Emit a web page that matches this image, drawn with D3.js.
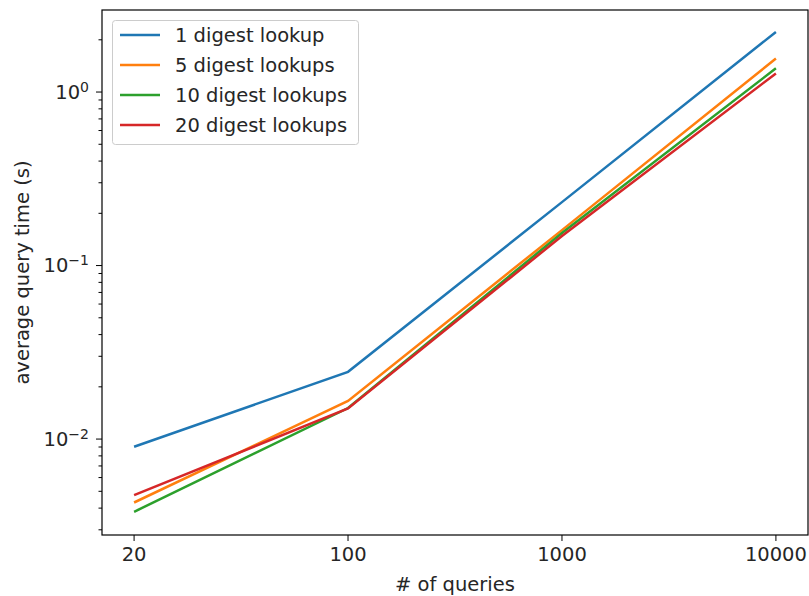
<!DOCTYPE html>
<html>

<head>
  <meta charset="UTF-8">
  <title>Query time</title>
  <script src="https://d3js.org/d3.v7.min.js"></script>
  <style>
    body { margin: 0; background: white; }
    text { font-family: "DejaVu Sans", sans-serif; fill: #262626; }
  </style>
</head>

<body>
  <svg></svg>
</body>

<script>
  // values
  let queries = ["20", "100", "1000", "10000"];
  let labels = ["1 digest lookup", "5 digest lookups", "10 digest lookups", "20 digest lookups"];
  let colors = ["#1f77b4", "#ff7f0e", "#2ca02c", "#d62728"];
  let oneLookup = [0.00903, 0.0244, 0.232, 2.22];
  let fiveLookups = [0.00431, 0.0166, 0.160, 1.56];
  let tenLookups = [0.00381, 0.0151, 0.154, 1.37];
  let twentyLookups = [0.00475, 0.0150, 0.148, 1.28];
  let yTicks = [0.01, 0.1, 1];

  let series = [oneLookup, fiveLookups, tenLookups, twentyLookups];

  let width = 809,
    height = 596;
  let mLeft = 102, mRight = 808, mTop = 10, mBottom = 535;
  let fs = "19.5px";

  let svg = d3.select("svg")
    .attr("width", width)
    .attr("height", height);

  let span = mRight - mLeft;
  let x = d3.scalePoint()
    .domain(queries)
    .range([mLeft + span * 0.05 / 1.1, mRight - span * 0.05 / 1.1]);

  let y = d3.scaleLog()
    .domain([0.0028, 2.97])
    .range([mBottom, mTop]);

  // minor ticks for the log axis
  let minor = [];
  for (let e = -3; e <= 0; e++) {
    for (let m = 2; m <= 9; m++) {
      let v = m * Math.pow(10, e);
      if (v >= y.domain()[0] && v <= y.domain()[1]) minor.push(v);
    }
  }

  svg.append("g")
    .selectAll("line")
    .data(minor)
    .enter()
    .append("line")
    .attr("x1", mLeft - 3.5).attr("x2", mLeft)
    .attr("y1", d => y(d)).attr("y2", d => y(d))
    .attr("stroke", "black").attr("stroke-width", 1);

  let yt = svg.append("g")
    .selectAll("g")
    .data(yTicks)
    .enter()
    .append("g")
    .attr("transform", d => "translate(0," + y(d) + ")");
  yt.append("line")
    .attr("x1", mLeft - 6).attr("x2", mLeft)
    .attr("stroke", "black").attr("stroke-width", 1);
  let ylab = yt.append("text")
    .attr("x", mLeft - 13)
    .attr("dy", "0.35em")
    .attr("text-anchor", "end")
    .style("font-size", fs);
  ylab.append("tspan").text("10");
  ylab.append("tspan")
    .attr("dy", "-0.5em")
    .style("font-size", "14px")
    .text(d => {
      let e = Math.round(Math.log10(d));
      return e < 0 ? "\u2212" + (-e) : "" + e;
    });

  let xt = svg.append("g")
    .selectAll("g")
    .data(queries)
    .enter()
    .append("g")
    .attr("transform", d => "translate(" + x(d) + ",0)");
  xt.append("line")
    .attr("y1", mBottom).attr("y2", mBottom + 6)
    .attr("stroke", "black").attr("stroke-width", 1);
  xt.append("text")
    .attr("y", mBottom + 19)
    .attr("dy", "0.35em")
    .attr("text-anchor", "middle")
    .style("font-size", fs)
    .text(d => d);

  // lines
  let line = d3.line()
    .x((d, i) => x(queries[i]))
    .y(d => y(d));

  svg.append("g")
    .selectAll("path")
    .data(series)
    .enter()
    .append("path")
    .attr("d", line)
    .attr("fill", "none")
    .attr("stroke", (d, i) => colors[i])
    .attr("stroke-width", 2.5);

  // frame
  svg.append("rect")
    .attr("x", mLeft).attr("y", mTop)
    .attr("width", mRight - mLeft).attr("height", mBottom - mTop)
    .attr("fill", "none")
    .attr("stroke", "black")
    .attr("stroke-width", 1.2);

  // axis titles
  svg.append("text")
    .attr("x", (mLeft + mRight) / 2)
    .attr("y", 584)
    .attr("dy", "0.35em")
    .attr("text-anchor", "middle")
    .style("font-size", fs)
    .text("# of queries");

  svg.append("text")
    .attr("transform", "translate(22," + (mTop + mBottom) / 2 + ") rotate(-90)")
    .attr("dy", "0.35em")
    .attr("text-anchor", "middle")
    .style("font-size", fs)
    .text("average query time (s)");

  // legend
  let legend = svg.append("g");
  legend.append("rect")
    .attr("x", 112.5).attr("y", 20.5)
    .attr("width", 246).attr("height", 124)
    .attr("rx", 3)
    .attr("fill", "white")
    .attr("fill-opacity", 0.8)
    .attr("stroke", "#cccccc");

  let rows = legend.selectAll("g.row")
    .data(labels)
    .enter()
    .append("g")
    .attr("class", "row")
    .attr("transform", (d, i) => "translate(0," + (35 + i * 30) + ")");
  rows.append("line")
    .attr("x1", 120).attr("x2", 160)
    .attr("stroke", (d, i) => colors[i])
    .attr("stroke-width", 2.5);
  rows.append("text")
    .attr("x", 175)
    .attr("dy", "0.35em")
    .style("font-size", fs)
    .text(d => d);
</script>
</html>
